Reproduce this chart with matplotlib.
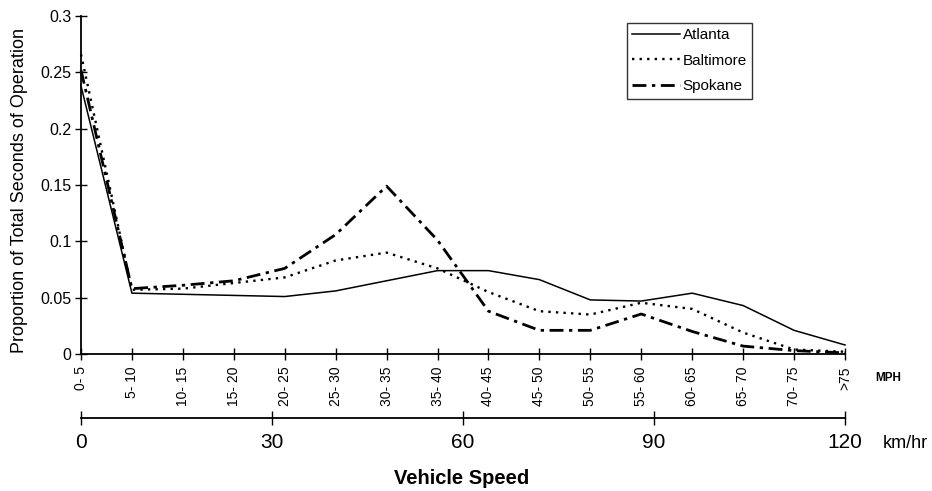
import matplotlib
matplotlib.use("Agg")
from matplotlib import pyplot as plt
from matplotlib.ticker import FuncFormatter

plt.rcParams['font.family'] = ['Liberation Sans', 'DejaVu Sans']

# speed bins (MPH)
speed_bins = ["0- 5", "5- 10", "10- 15", "15- 20", "20- 25", "25- 30", "30- 35", "35- 40",
              "40- 45", "45- 50", "50- 55", "55- 60", "60- 65", "65- 70", "70- 75", ">75"]

atlanta = [0.238, 0.054, 0.053, 0.052, 0.051, 0.056, 0.065, 0.074,
           0.074, 0.066, 0.048, 0.047, 0.054, 0.043, 0.021, 0.008]
baltimore = [0.266, 0.057, 0.058, 0.063, 0.068, 0.083, 0.090, 0.076,
             0.055, 0.038, 0.035, 0.0455, 0.040, 0.019, 0.004, 0.002]
spokane = [0.252, 0.058, 0.061, 0.065, 0.076, 0.106, 0.149, 0.101,
           0.038, 0.021, 0.021, 0.0355, 0.020, 0.007, 0.003, 0.001]

kmh_ticks = [0, 30, 60, 90, 120]

fig = plt.figure(figsize=(9.32, 4.91), dpi=100)
ax = fig.add_axes([81 / 932, 137 / 491, 764 / 932, 338 / 491])

x = list(range(len(speed_bins)))
l1, = ax.plot(x, atlanta, color='black', lw=1.1, label='Atlanta', clip_on=False)
l2, = ax.plot(x, baltimore, color='black', lw=1.7, linestyle=(0, (1, 2.2)), label='Baltimore', clip_on=False)
l3, = ax.plot(x, spokane, color='black', lw=2.0, linestyle=(0, (5, 2, 1.2, 2)), label='Spokane', clip_on=False)

ax.set_xlim(0, 15)
ax.set_ylim(0, 0.3)
ax.set_yticks([0, 0.05, 0.1, 0.15, 0.2, 0.25, 0.3])
ax.yaxis.set_major_formatter(FuncFormatter(lambda v, p: '%g' % v))
ax.set_xticks(x)
ax.set_xticklabels(speed_bins, rotation=90)
ax.tick_params(axis='both', direction='inout', length=8, width=1, colors='black')
ax.tick_params(axis='x', pad=5, labelsize=10)
ax.tick_params(axis='y', pad=3, labelsize=11.5)
for s in ['top', 'right']:
    ax.spines[s].set_visible(False)
for s in ['left', 'bottom']:
    ax.spines[s].set_linewidth(1.3)

ax.set_ylabel('Proportion of Total Seconds of Operation', fontsize=13)
ax.yaxis.set_label_coords(-0.07, 0.485)

# km/hr axis below
sec = ax.secondary_xaxis(-0.19, functions=(lambda v: v * 8, lambda v: v / 8))
sec.set_xticks(kmh_ticks)
sec.tick_params(direction='inout', length=10, width=1, labelsize=15, pad=6)
sec.spines['bottom'].set_linewidth(1.3)

fig.text(888 / 932, 1 - 378 / 491, 'MPH', fontsize=8.5, fontweight='bold', ha='center', va='center')
fig.text(905 / 932, 1 - 444 / 491, 'km/hr', fontsize=13, ha='center', va='center')
fig.text(462 / 932, 1 - 478 / 491, 'Vehicle Speed', fontsize=14.5, fontweight='bold', ha='center', va='center')

leg = ax.legend(handles=[l1, l2, l3], loc='upper left', bbox_to_anchor=(627 / 932, 1 - 23 / 491),
                bbox_transform=fig.transFigure, frameon=True, fancybox=False, fontsize=11,
                handlelength=3.1, handletextpad=0.2, borderpad=0.35, labelspacing=0.75,
                borderaxespad=0)
leg.get_frame().set_edgecolor('black')
leg.get_frame().set_linewidth(1.0)

fig.savefig('out.png', dpi=100)
